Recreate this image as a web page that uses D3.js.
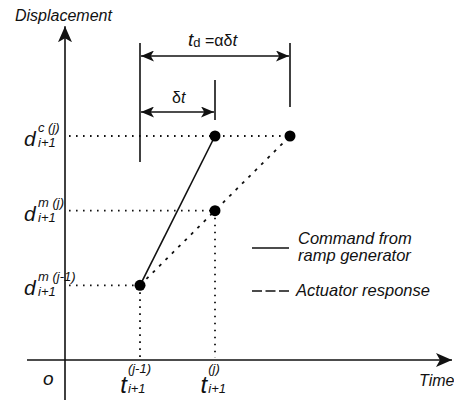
<!DOCTYPE html>
<html>
<head>
<meta charset="utf-8">
<script src="https://cdn.jsdelivr.net/npm/d3@7"></script>
<style>
  body { margin: 0; background: #fff; }
  text { font-family: "Liberation Sans", Arial, sans-serif; font-style: italic; fill: #111; }
</style>
</head>
<body>
<div id="chart"></div>
<script>
// time instants (arbitrary units): t(j-1), t(j), t(j)+td
const times = [1, 2, 3]
// displacement levels: d_m(j-1), d_m(j), d_c(j)
const levels = [1, 2, 3]
// command from ramp generator
const command = [{t: 1, d: 1}, {t: 2, d: 3}]
// actuator response
const response = [{t: 1, d: 1}, {t: 2, d: 2}, {t: 3, d: 3}]
const points = [{t: 1, d: 1}, {t: 2, d: 3}, {t: 2, d: 2}, {t: 3, d: 3}]
const dLabels = [
    {d: 3, sup: 'c (j)'},
    {d: 2, sup: 'm (j)'},
    {d: 1, sup: 'm (j-1)'}
]
const tLabels = [{t: 1, sup: '(j-1)'}, {t: 2, sup: '(j)'}]

const width = 454, height = 400

const svg = d3.select('#chart').append('svg')
    .attr('width', width)
    .attr('height', height)

const x = d3.scaleLinear().domain([0, 3]).range([65, 290])
const y = d3.scaleLinear().domain([0, 3]).range([360, 136])

const defs = svg.append('defs')
defs.append('marker')
    .attr('id', 'arr')
    .attr('viewBox', '0 0 10 10')
    .attr('refX', 10).attr('refY', 5)
    .attr('markerWidth', 13).attr('markerHeight', 11)
    .attr('markerUnits', 'userSpaceOnUse')
    .attr('orient', 'auto-start-reverse')
    .attr('preserveAspectRatio', 'none')
    .append('path')
    .attr('d', 'M0,0 L10,5 L0,10 L2.5,5 Z')
    .attr('fill', '#111')
defs.append('marker')
    .attr('id', 'big')
    .attr('viewBox', '0 0 10 10')
    .attr('refX', 10).attr('refY', 5)
    .attr('markerWidth', 16).attr('markerHeight', 14)
    .attr('markerUnits', 'userSpaceOnUse')
    .attr('orient', 'auto')
    .attr('preserveAspectRatio', 'none')
    .append('path')
    .attr('d', 'M0,0 L10,5 L0,10 L2.5,5 Z')
    .attr('fill', '#111')

// axes
svg.append('line')
    .attr('x1', x(0)).attr('y1', 400)
    .attr('x2', x(0)).attr('y2', y(4.47))
    .attr('stroke', '#111').attr('stroke-width', 1.6)
    .attr('marker-end', 'url(#big)')
svg.append('line')
    .attr('x1', 27).attr('y1', y(0))
    .attr('x2', x(5.16)).attr('y2', y(0))
    .attr('stroke', '#111').attr('stroke-width', 1.6)
    .attr('marker-end', 'url(#big)')

// dotted guides
const dotted = svg.append('g')
    .attr('stroke', '#111')
    .attr('stroke-width', 1.8)
    .attr('stroke-dasharray', '1.6 5.4')
const hguides = [{d: 3, t: 3}, {d: 2, t: 2}, {d: 1, t: 1}]
hguides.forEach(g => {
    dotted.append('line')
        .attr('x1', x(0) + 4).attr('y1', y(g.d))
        .attr('x2', x(g.t)).attr('y2', y(g.d))
})
const vguides = [{t: 1, d: 1}, {t: 2, d: 2}]
vguides.forEach(g => {
    dotted.append('line')
        .attr('x1', x(g.t)).attr('y1', y(g.d))
        .attr('x2', x(g.t)).attr('y2', y(0) - 2)
})

const line = d3.line().x(d => x(d.t)).y(d => y(d.d))

svg.append('path')
    .attr('d', line(response))
    .attr('fill', 'none')
    .attr('stroke', '#111')
    .attr('stroke-width', 1.8)
    .attr('stroke-dasharray', '3 6')

svg.append('path')
    .attr('d', line(command))
    .attr('fill', 'none')
    .attr('stroke', '#111')
    .attr('stroke-width', 1.6)

svg.append('g').selectAll('circle')
    .data(points)
    .join('circle')
    .attr('cx', d => x(d.t))
    .attr('cy', d => y(d.d))
    .attr('r', 5.5)
    .attr('fill', '#000')

// timing markers
const marks = svg.append('g').attr('stroke', '#111').attr('stroke-width', 1.6)
marks.append('line').attr('x1', x(1)).attr('x2', x(1)).attr('y1', 43).attr('y2', 162)
marks.append('line').attr('x1', x(2)).attr('x2', x(2)).attr('y1', 80).attr('y2', 120)
marks.append('line').attr('x1', x(3)).attr('x2', x(3)).attr('y1', 43).attr('y2', 107)

marks.append('line')
    .attr('x1', x(1) + 1).attr('x2', x(3) - 1)
    .attr('y1', 56).attr('y2', 56)
    .attr('marker-start', 'url(#arr)').attr('marker-end', 'url(#arr)')
marks.append('line')
    .attr('x1', x(1) + 1).attr('x2', x(2) - 1)
    .attr('y1', 112).attr('y2', 112)
    .attr('marker-start', 'url(#arr)').attr('marker-end', 'url(#arr)')

// labels
svg.append('text').attr('x', 15).attr('y', 21).attr('font-size', 16).text('Displacement')
svg.append('text').attr('x', 419).attr('y', 386).attr('font-size', 16).text('Time')
svg.append('text').attr('x', 43).attr('y', 385).attr('font-size', 19).text('o')

const td = svg.append('text').attr('x', 188).attr('y', 46)
td.append('tspan').attr('font-size', 19).text('t')
td.append('tspan').attr('font-style', 'normal').attr('font-size', 13).attr('dy', 1).text('d')
td.append('tspan').attr('font-style', 'normal').attr('font-size', 16).attr('dy', -1).text(' =αδ')
td.append('tspan').attr('font-size', 17).text('t')

const dt = svg.append('text').attr('x', 172).attr('y', 103)
dt.append('tspan').attr('font-style', 'normal').attr('font-size', 16).text('δ')
dt.append('tspan').attr('font-size', 16).text('t')

dLabels.forEach(l => {
    const g = svg.append('g').attr('transform', `translate(24,${y(l.d)})`)
    g.append('text').attr('x', 0).attr('y', 10).attr('font-size', 21).text('d')
    g.append('text').attr('x', 14).attr('y', -4).attr('font-size', 13).text(l.sup)
    g.append('text').attr('x', 14).attr('y', 11).attr('font-size', 13).attr('font-style', 'normal').text('i+1')
})

tLabels.forEach(l => {
    const g = svg.append('g').attr('transform', `translate(${x(l.t) + 11},0)`)
    const sup = g.append('text').attr('y', 373).attr('font-size', 13).attr('font-style', 'normal').text(l.sup)
    const sub = g.append('text').attr('y', 393).attr('font-size', 13).attr('font-style', 'normal').text('i+1')
    const w = Math.max(sup.node().getComputedTextLength(), sub.node().getComputedTextLength())
    sup.attr('x', -w)
    sub.attr('x', -w)
    g.append('text').attr('x', -w - 1).attr('y', 393).attr('font-size', 24)
        .attr('text-anchor', 'end').text('t')
})

// legend
const lg = svg.append('g')
lg.append('line').attr('x1', 252).attr('x2', 289).attr('y1', 248).attr('y2', 248)
    .attr('stroke', '#111').attr('stroke-width', 1.6)
lg.append('text').attr('x', 298).attr('y', 244).attr('font-size', 16.5).text('Command from')
lg.append('text').attr('x', 298).attr('y', 261).attr('font-size', 16.5).text('ramp generator')
lg.append('line').attr('x1', 252).attr('x2', 289).attr('y1', 291).attr('y2', 291)
    .attr('stroke', '#111').attr('stroke-width', 1.6).attr('stroke-dasharray', '10 3.5')
lg.append('text').attr('x', 296).attr('y', 296).attr('font-size', 16.5).text('Actuator response')
</script>
</body>
</html>
